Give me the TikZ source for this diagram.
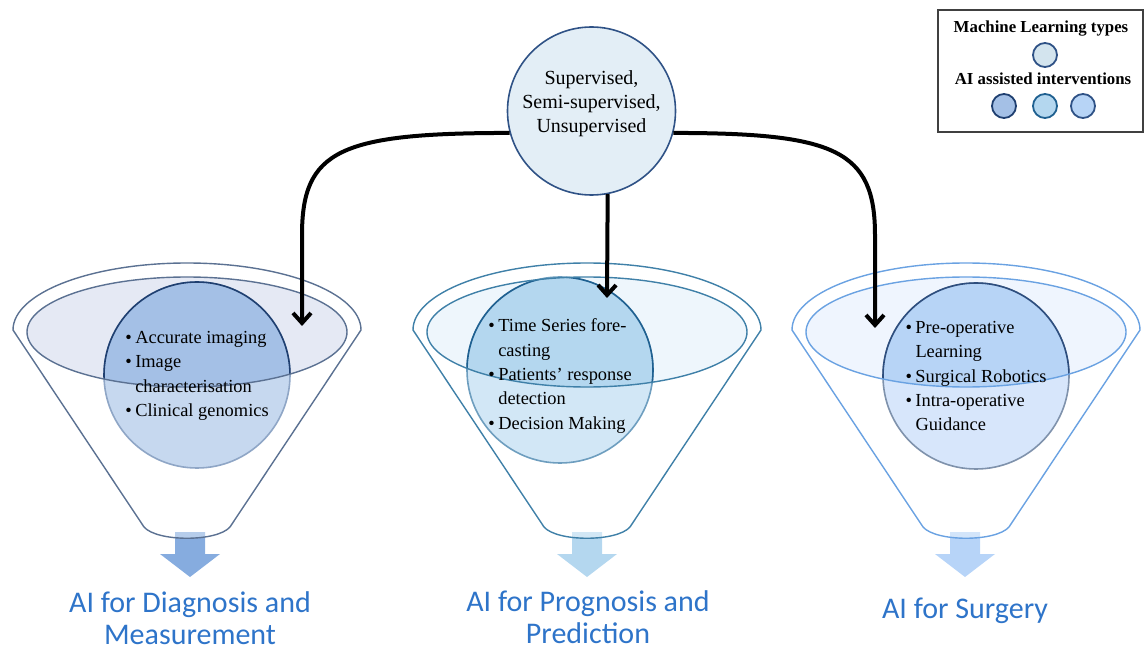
\documentclass[tikz,border=0pt]{standalone}
\usepackage{fontspec}
\setmainfont{Liberation Serif}
\newfontfamily\capfont{Carlito}
\usepackage{tikz}
\usetikzlibrary{positioning,arrows.meta,calc}

\definecolor{lineA}{HTML}{5B7192}
\definecolor{ellA}{HTML}{E5E9F4}
\definecolor{topA}{HTML}{A4C0E6}
\definecolor{lowA}{HTML}{C6D8EF}
\definecolor{rimA}{HTML}{8FA6C6}
\definecolor{darkA}{HTML}{1F3F70}
\definecolor{lineB}{HTML}{3F80A8}
\definecolor{ellB}{HTML}{EEF6FC}
\definecolor{topB}{HTML}{B4D7EF}
\definecolor{lowB}{HTML}{D2E7F6}
\definecolor{rimB}{HTML}{6E9EBF}
\definecolor{darkB}{HTML}{1F6090}
\definecolor{lineC}{HTML}{6AA2E2}
\definecolor{ellC}{HTML}{EFF5FE}
\definecolor{topC}{HTML}{B7D4F6}
\definecolor{lowC}{HTML}{D7E6FB}
\definecolor{rimC}{HTML}{7F92AC}
\definecolor{darkC}{HTML}{2E4E7E}
\definecolor{arrA}{HTML}{86ACDF}
\definecolor{arrB}{HTML}{B4D7EF}
\definecolor{arrC}{HTML}{B7D4F8}
\definecolor{mlfill}{HTML}{E3EEF6}
\definecolor{mlline}{HTML}{2F5286}
\definecolor{keydot}{HTML}{D3E4EE}
\definecolor{capblue}{HTML}{2E74C9}

\newcommand{\bul}{\makebox[5pt][l]{\textbullet}}
\newcommand{\bulgap}{\hspace*{5pt}}

\tikzset{
  bubble/.style={circle,minimum size=93pt,inner sep=0pt,line width=0.8pt},
  items/.style={font=\fontsize{9.2}{12.2}\selectfont,align=left,inner sep=0pt},
  link/.style={line width=2pt,-{Straight Barb[length=5pt,width=9pt]}},
  keydot/.style={circle,minimum size=12pt,inner sep=0pt,line width=0.9pt},
  keytext/.style={font=\bfseries\fontsize{8.4}{9}\selectfont,inner sep=0pt},
  caption/.style={font=\capfont\fontsize{15}{16}\selectfont,text=capblue,align=center,inner sep=0pt},
}

% block arrow under a funnel: #1 centre x, #2 colour
\newcommand{\dropArrow}[2]{%
  \fill[#2] (#1-15,532) -- (#1+15,532) -- (#1+15,554) -- (#1+30,554) -- (#1,577) -- (#1-30,554) -- (#1-15,554) -- cycle;}

% funnel: #1 tag, #2 centre x, #3/#4 bubble centre, #5 text y, #6 items
\newcommand{\funnel}[6]{%
  % cone with its outer rim
  \draw[line#1,line width=0.7pt,fill=white,fill opacity=.4] (#2-174,330) arc[start angle=180,end angle=360,x radius=174,y radius=67] -- (#2+43,527) .. controls (#2+30,542) and (#2-30,542) .. (#2-43,527) -- cycle;
  % inner ellipse, bubble darker where they overlap
  \fill[ell#1] (#2,332) ellipse[x radius=160,y radius=55];
  \node[bubble,fill=low#1,draw=rim#1] (c#1) at (#3,#4) {};
  \begin{scope}
    \clip (#2,332) ellipse[x radius=160,y radius=55];
    \node[bubble,fill=top#1,draw=dark#1] (ct#1) at (c#1) {};
  \end{scope}
  \draw[line#1,line width=0.7pt] (#2,332) ellipse[x radius=160,y radius=55];
  \node[items] (t#1) at (#3,#5) {#6};
}

\begin{document}
\begin{tikzpicture}[x=0.5pt,y=-0.5pt]
\useasboundingbox (0,0) rectangle (1147,652);

% block arrows
\dropArrow{190}{arrA}
\dropArrow{587}{arrB}
\dropArrow{965}{arrC}

% funnels
\funnel{A}{187}{197}{375}{376}{\bul Accurate imaging\\\bul Image\\\bulgap characterisation\\\bul Clinical genomics}
\funnel{B}{587}{560}{370}{376}{\bul Time Series fore-\\\bulgap casting\\\bul Patients’ response\\\bulgap detection\\\bul Decision Making}
\funnel{C}{966}{976}{376}{376}{\bul Pre-operative\\\bulgap Learning\\\bul Surgical Robotics\\\bul Intra-operative\\\bulgap Guidance}

% machine learning types
\node[circle,minimum size=84pt,inner sep=0pt,fill=mlfill,draw=mlline,line width=0.8pt] (ml) at (591.5,111) {};
\node[align=center,font=\fontsize{10}{12}\selectfont,inner sep=0pt] (mltxt) at (591.5,104) {Supervised,\\Semi-supervised,\\Unsupervised};

% connectors
\coordinate (tipA) at (302,326);
\coordinate (tipB) at (607,298);
\coordinate (tipC) at (875,328);
\draw[link] (ml.195) .. controls (340,133) and (302,150) .. (302,235) -- (tipA);
\draw[link] (ml.281) -- (tipB);
\draw[link] (ml.345) .. controls (835,133) and (875,150) .. (875,235) -- (tipC);

% legend
\node[draw=black!75,line width=0.6pt,minimum width=102.5pt,minimum height=61pt,inner sep=0pt] (key) at (1040.5,71) {};
\node[keytext] (keyml) at (1041,29) {Machine Learning types};
\node[keydot,fill=keydot,draw=mlline] (dotml) at (1045,55) {};
\node[keytext] (keyai) at (1043,79) {AI assisted interventions};
\node[keydot,fill=topA,draw=darkA] (dotA) at (1004,106) {};
\node[keydot,fill=topB,draw=darkB] (dotB) at (1045,106) {};
\node[keydot,fill=topC,draw=mlline] (dotC) at (1083,106) {};

% captions
\node[caption] (capA) at (190,618) {AI for Diagnosis and\\Measurement};
\node[caption] (capB) at (588,617) {AI for Prognosis and\\Prediction};
\node[caption] (capC) at (965,611) {AI for Surgery};
\end{tikzpicture}
\end{document}
